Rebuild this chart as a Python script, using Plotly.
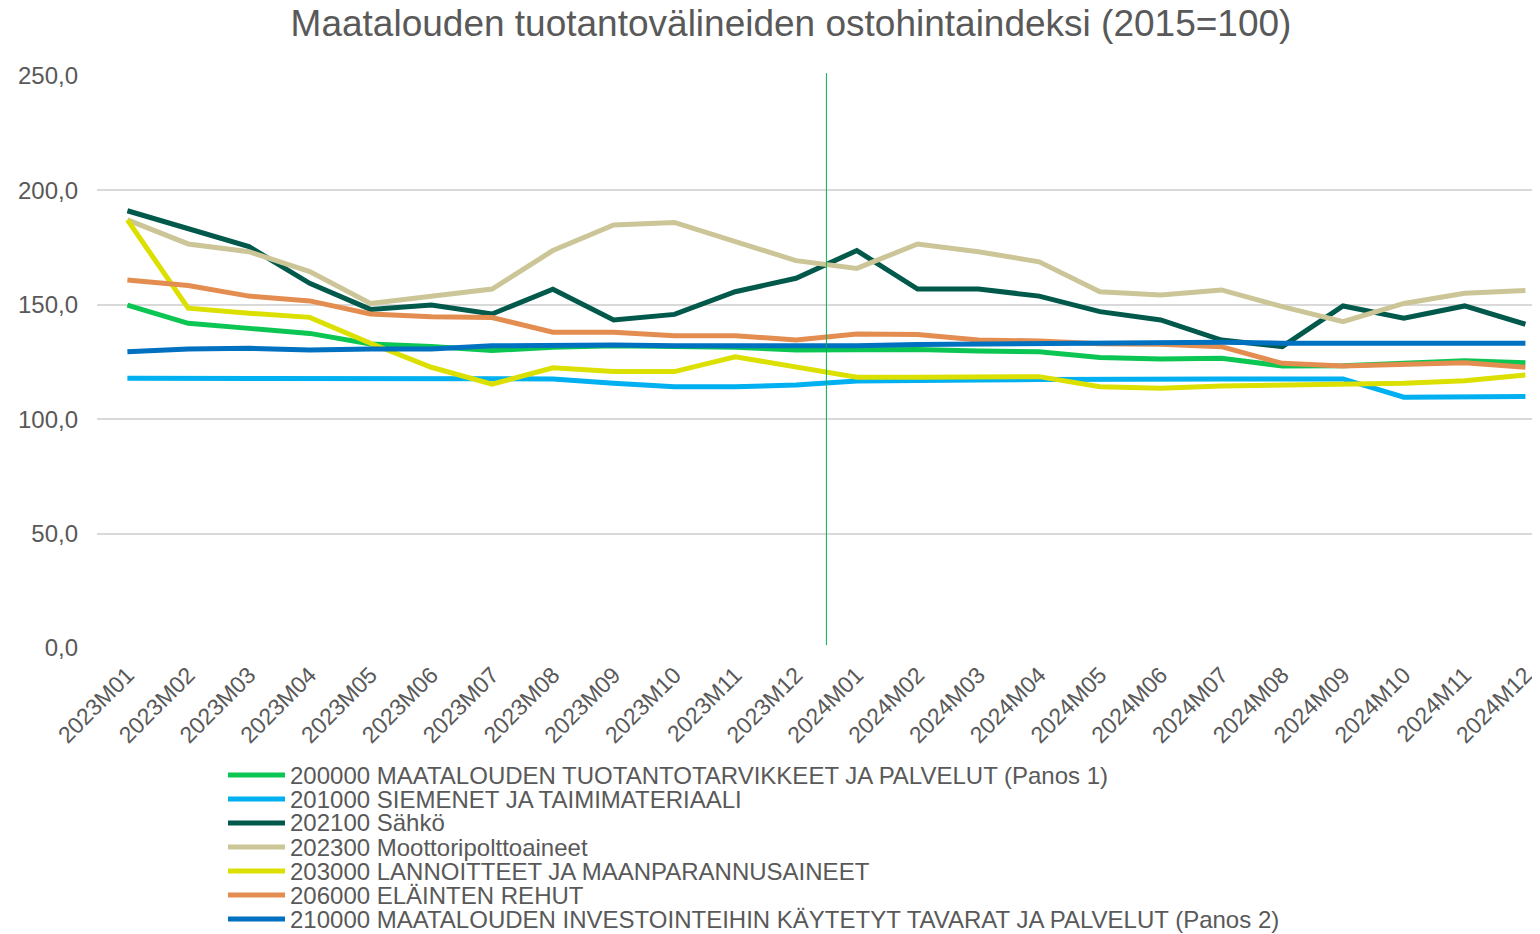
import plotly.graph_objects as go

months = [f"{y}M{m:02d}" for y in (2023, 2024) for m in range(1, 13)]

panos1 = [149.9, 141.9, 139.7, 137.5, 132.9, 131.8, 130.0, 131.4, 132.1, 131.8, 131.5, 130.2,
          130.2, 130.5, 129.8, 129.5, 127.0, 126.3, 126.6, 123.3, 123.4, 124.4, 125.6, 124.7]
siemenet = [117.9, 117.9, 117.7, 117.7, 117.7, 117.7, 117.7, 117.6, 115.7, 114.2, 114.2, 114.9,
            116.7, 116.7, 117.1, 117.4, 117.6, 117.6, 117.6, 117.6, 117.6, 109.6, 109.6, 109.9]
sahko = [191.1, 183.4, 175.4, 159.4, 148.0, 149.9, 146.0, 156.8, 143.4, 145.8, 155.7, 161.6,
         173.7, 156.9, 156.9, 153.8, 147.0, 143.4, 134.6, 131.7, 149.5, 144.1, 149.5, 141.5]
moottori = [187.1, 176.6, 173.2, 164.5, 150.6, 154.0, 156.9, 173.7, 184.9, 186.0, 177.6, 169.3,
            165.9, 176.6, 173.2, 168.8, 155.7, 154.3, 156.5, 149.2, 142.6, 150.6, 155.0, 156.2]
lannoitteet = [187.1, 148.5, 146.3, 144.5, 133.2, 122.7, 115.3, 122.5, 120.8, 120.8, 127.3, 122.7,
               118.3, 118.3, 118.6, 118.6, 114.2, 113.5, 114.5, 114.9, 115.4, 115.7, 116.8, 119.3]
rehut = [160.8, 158.4, 153.8, 151.7, 146.0, 144.8, 144.4, 138.0, 138.0, 136.5, 136.5, 134.6,
         137.2, 137.0, 134.6, 134.2, 133.0, 132.8, 131.7, 124.4, 123.3, 124.1, 124.7, 122.7]
panos2 = [129.5, 130.7, 131.0, 130.2, 130.7, 130.7, 132.1, 132.4, 132.4, 132.1, 132.1, 132.1,
          132.1, 132.7, 132.9, 133.2, 133.2, 133.2, 133.6, 133.2, 133.2, 133.6, 133.2, 133.2]

series = [
    ("200000 MAATALOUDEN TUOTANTOTARVIKKEET JA PALVELUT (Panos 1)", panos1, "#0CC653"),
    ("201000 SIEMENET JA TAIMIMATERIAALI", siemenet, "#00B0F0"),
    ("202100 Sähkö", sahko, "#00594A"),
    ("202300 Moottoripolttoaineet", moottori, "#CCC597"),
    ("203000 LANNOITTEET JA MAANPARANNUSAINEET", lannoitteet, "#DCE000"),
    ("206000 ELÄINTEN REHUT", rehut, "#E48D51"),
    ("210000 MAATALOUDEN INVESTOINTEIHIN KÄYTETYT TAVARAT JA PALVELUT (Panos 2)", panos2, "#0070C0"),
]

# page body has an 8px margin, so the figure is 8px smaller than the window
W, H = 1532, 926
L, T, B = 89, 68, 286
plot_w, plot_h = W - L, H - T - B

fig = go.Figure()
for name, vals, color in series:
    fig.add_trace(go.Scatter(
        x=months, y=vals, mode='lines', name=name,
        line=dict(color=color, width=5)
    ))

# year divider between 2023M12 and 2024M01
fig.add_shape(type='line', xref='x', yref='paper', x0=11.5, x1=11.5, y0=0.005, y1=1.005,
              line=dict(color='#00B050', width=1))

# compact legend below the axis (Excel-style tight rows)
for i, (name, vals, color) in enumerate(series):
    ypx = 767 + 24 * i
    yp = (H - B - ypx) / plot_h
    fig.add_shape(type='line', xref='paper', yref='paper',
                  x0=(220 - L) / plot_w, x1=(277 - L) / plot_w, y0=yp, y1=yp,
                  line=dict(color=color, width=5))
    fig.add_annotation(xref='paper', yref='paper', x=(280 - L) / plot_w, y=yp,
                       xanchor='left', yanchor='middle', showarrow=False,
                       text=name, font=dict(size=24, color='#595959'))

font = "Liberation Sans, Arial, sans-serif"
fig.update_layout(
    width=W, height=H,
    paper_bgcolor='white', plot_bgcolor='white',
    margin=dict(l=L, r=0, t=T, b=B, autoexpand=False),
    font=dict(family=font, color='#595959', size=24),
    title=dict(text='Maatalouden tuotantovälineiden ostohintaindeksi (2015=100)',
               x=783 / W, xanchor='center', y=1 - 15 / H, yanchor='middle',
               font=dict(size=37, color='#595959')),
    xaxis=dict(type='category', range=[-0.5, 23.24], tickangle=-45,
               showgrid=False, showline=False, ticks='', tickfont=dict(size=23),
               automargin=False, ticklabelstandoff=8),
    yaxis=dict(range=[0, 250], tickvals=[0, 50, 100, 150, 200, 250],
               ticktext=['0,0', '50,0', '100,0', '150,0', '200,0', '250,0'],
               showgrid=True, gridcolor='#D9D9D9', gridwidth=1.5,
               zeroline=False, showline=False, ticks='', tickfont=dict(size=24),
               automargin=False, ticklabelstandoff=18),
    showlegend=False,
)

fig.write_html("out.html")
